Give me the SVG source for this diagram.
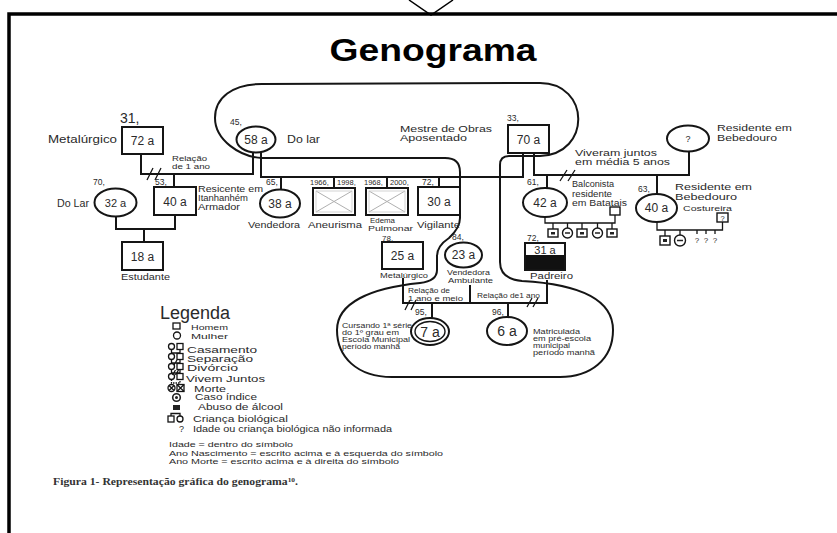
<svg xmlns="http://www.w3.org/2000/svg" width="837" height="533" viewBox="0 0 837 533">
<style>
.ln{fill:none;stroke:#151515;stroke-width:2}
.thin{fill:none;stroke:#151515;stroke-width:1.3}
.nd{fill:#fff;stroke:#151515;stroke-width:2}
.sm{fill:#fff;stroke:#151515;stroke-width:1.4}
.x{stroke:#b0b0b0;stroke-width:1}
.t{font-family:"Liberation Sans",Arial,sans-serif;fill:#2a2a2a}
.c{text-anchor:middle}
.n{font-size:12px}
.yr{font-size:8.5px}
.ys{font-size:7.5px}
</style>

<!-- frame -->
<g id="frame">
<path d="M9,533 V14 H837" fill="none" stroke="#000" stroke-width="3.5"/>
<path d="M409,0 L431,15 L453,0" fill="none" stroke="#000" stroke-width="1.5"/>
</g>

<text x="433" y="61" class="t c" style="font-size:31px;font-weight:bold;fill:#000" textLength="207" lengthAdjust="spacingAndGlyphs">Genograma</text>

<!-- household boundary -->
<g id="household">
<path class="ln" d="M262,158 L445,158 Q460,158 460,172 L460,218 Q460,228 449,238 Q437,246 437,256 L437,270 Q437,281 420,283 C370,288 337,303 337,330 C337,357 357,377 392,377 L560,377 C590,377 613,360 613,330 C613,297 575,284 522,281 Q500,279 500,262 L500,165 Q500,156 509,156 L540,156 C592,154 590,83 540,83 L262,84 C232,84 215,98 215,118 C215,140 240,157 262,158 Z"/>
</g>

<!-- connectors -->
<g id="connectors">
<path class="ln" d="M141,154 V174 H253 V152"/>
<path class="thin" d="M147,180 L153,168 M155,180 L161,168"/>
<path class="ln" d="M174,174 V187"/>
<path class="ln" d="M116,216 V229 H175 V215 M144,229 V242"/>
<path class="ln" d="M261,152 V177 H523 V153"/>
<path class="ln" d="M281,177 V190 M334,177 V188 M387,177 V188 M439,177 V187"/>
<path class="ln" d="M534,153 V175 H689 V151"/>
<path class="thin" d="M560,181 L567,170 M568,181 L575,170"/>
<path class="ln" d="M547,175 V188 M657,175 V194"/>
<path class="thin" d="M545,217 V223 H615 V215 M553,223 V229 M567.5,223 V229 M582,223 V229 M597.5,223 V229 M612,223 V229"/>
<path class="thin" d="M657,222 V230 H722.5 V221 M665,230 V236 M680,230 V235 M697,230 V234 M706,230 V234 M715,230 V234"/>
<path class="ln" d="M403,278 V303 H547 V280 M470,285 V303 M432,303 V318 M508,303 V317"/>
<path class="thin" d="M405,310 L410,300 M411,310 L416,300 M527,307 L532,298 M533,307 L538,298"/>
</g>

<!-- top-left -->
<g id="n72">
<rect class="nd" x="122" y="127" width="41" height="27"/>
<text x="142.5" y="145" class="t c n">72 a</text>
<text x="120" y="123" class="t" style="font-size:14px">31,</text>
<text x="48" y="143" class="t" style="font-size:10.5px" textLength="69" lengthAdjust="spacingAndGlyphs">Metalúrgico</text>
</g>
<text x="172" y="161" class="t" style="font-size:7.5px" textLength="35" lengthAdjust="spacingAndGlyphs">Relação</text>
<text x="172" y="169" class="t" style="font-size:7.5px" textLength="38" lengthAdjust="spacingAndGlyphs">de 1 ano</text>

<g id="n32">
<ellipse class="nd" cx="115.5" cy="202.5" rx="21" ry="14"/>
<text x="115.5" y="206.5" class="t c" style="font-size:11px">32 a</text>
<text x="93" y="185" class="t yr">70,</text>
<text x="57" y="206.5" class="t" style="font-size:10px" textLength="32" lengthAdjust="spacingAndGlyphs">Do Lar</text>
</g>
<g id="n40L">
<rect class="nd" x="154" y="187" width="42" height="28"/>
<text x="175" y="205.5" class="t c n">40 a</text>
<text x="155" y="185" class="t yr">53,</text>
<text x="198" y="191.5" class="t" style="font-size:8.2px" textLength="65" lengthAdjust="spacingAndGlyphs">Resicente em</text>
<text x="198" y="200.5" class="t" style="font-size:8.2px" textLength="50" lengthAdjust="spacingAndGlyphs">Itanhanhém</text>
<text x="198" y="209.5" class="t" style="font-size:8.2px" textLength="42" lengthAdjust="spacingAndGlyphs">Armador</text>
</g>
<g id="n18">
<rect class="nd" x="122" y="242" width="41" height="28"/>
<text x="142.5" y="260.5" class="t c n">18 a</text>
<text x="121" y="280" class="t" style="font-size:9px" textLength="49" lengthAdjust="spacingAndGlyphs">Estudante</text>
</g>

<g id="n58">
<ellipse class="nd" cx="256" cy="139.5" rx="19.5" ry="13"/>
<text x="256" y="143.5" class="t c n">58 a</text>
<text x="230" y="125" class="t yr">45,</text>
<text x="287" y="143" class="t" style="font-size:10.5px" textLength="33" lengthAdjust="spacingAndGlyphs">Do lar</text>
</g>
<g id="n70">
<rect class="nd" x="508" y="125" width="41" height="28"/>
<text x="528.5" y="143.5" class="t c n">70 a</text>
<text x="507" y="121" class="t yr">33,</text>
<text x="400" y="131.5" class="t" style="font-size:9px" textLength="92" lengthAdjust="spacingAndGlyphs">Mestre de Obras</text>
<text x="400" y="141" class="t" style="font-size:9px" textLength="67" lengthAdjust="spacingAndGlyphs">Aposentado</text>
</g>
<text x="575" y="155.5" class="t" style="font-size:9px" textLength="82" lengthAdjust="spacingAndGlyphs">Viveram juntos</text>
<text x="575" y="165" class="t" style="font-size:9px" textLength="95" lengthAdjust="spacingAndGlyphs">em média 5 anos</text>

<g id="nQ">
<ellipse class="nd" cx="688" cy="138.5" rx="21" ry="13"/>
<text x="688" y="141.5" class="t c" style="font-size:9px">?</text>
<text x="717" y="131" class="t" style="font-size:9px" textLength="75" lengthAdjust="spacingAndGlyphs">Residente em</text>
<text x="717" y="141" class="t" style="font-size:9px" textLength="60" lengthAdjust="spacingAndGlyphs">Bebedouro</text>
</g>

<!-- children of 58a & 70a -->
<g id="n38">
<ellipse class="nd" cx="280" cy="203.5" rx="20" ry="14"/>
<text x="280" y="207.5" class="t c n">38 a</text>
<text x="266" y="185" class="t yr">65,</text>
<text x="248" y="228" class="t" style="font-size:9.5px" textLength="52" lengthAdjust="spacingAndGlyphs">Vendedora</text>
</g>
<g id="nX1">
<rect class="nd" x="313" y="188" width="42" height="27"/>
<path class="x" d="M316,191 L352,212 M352,191 L316,212"/>
<rect x="316" y="191" width="36" height="21" fill="none" stroke="#c8c8c8" stroke-width="0.8"/>
<text x="310" y="185" class="t ys">1966,</text>
<text x="337" y="185" class="t ys">1998,</text>
<text x="308" y="228" class="t" style="font-size:9.5px" textLength="54" lengthAdjust="spacingAndGlyphs">Aneurisma</text>
</g>
<g id="nX2">
<rect class="nd" x="366" y="188" width="42" height="27"/>
<path class="x" d="M369,191 L405,212 M405,191 L369,212"/>
<rect x="369" y="191" width="36" height="21" fill="none" stroke="#c8c8c8" stroke-width="0.8"/>
<text x="364" y="185" class="t ys">1968,</text>
<text x="390" y="185" class="t ys">2000,</text>
<text class="t" style="font-size:7px"><tspan x="370" y="222.5" textLength="25" lengthAdjust="spacingAndGlyphs">Edema</tspan><tspan x="368" y="231" textLength="45" lengthAdjust="spacingAndGlyphs">Pulmonar</tspan></text>
</g>
<g id="n30">
<rect class="nd" x="418" y="187" width="42" height="28"/>
<text x="439" y="205.5" class="t c n">30 a</text>
<text x="422" y="185" class="t yr">72,</text>
<text x="417" y="228" class="t" style="font-size:9.5px" textLength="43" lengthAdjust="spacingAndGlyphs">Vigilante</text>
</g>

<!-- right family -->
<g id="n42">
<ellipse class="nd" cx="545" cy="202.5" rx="22" ry="14.5"/>
<text x="545" y="206.5" class="t c n">42 a</text>
<text x="527" y="185" class="t yr">61,</text>
<text x="572" y="187" class="t" style="font-size:8.5px" textLength="42" lengthAdjust="spacingAndGlyphs">Balconista</text>
<text x="572" y="196.5" class="t" style="font-size:8.5px" textLength="40" lengthAdjust="spacingAndGlyphs">residente</text>
<text x="572" y="206" class="t" style="font-size:8.5px" textLength="55" lengthAdjust="spacingAndGlyphs">em Batatais</text>
</g>
<g id="n42sp"><rect class="sm" x="610" y="207" width="10" height="8"/></g>
<g id="k42">
<rect class="sm" x="548" y="229" width="10" height="8"/><rect x="551" y="232" width="4" height="2.5" fill="#222"/>
<circle class="sm" cx="567.5" cy="233" r="5"/><path d="M565,233 H570" stroke="#222" stroke-width="1.5"/>
<rect class="sm" x="577" y="229" width="10" height="8"/><rect x="580" y="232" width="4" height="2.5" fill="#222"/>
<circle class="sm" cx="597.5" cy="233" r="5"/><path d="M595,233 H600" stroke="#222" stroke-width="1.5"/>
<rect class="sm" x="607" y="229" width="10" height="8"/><rect x="610" y="232" width="4" height="2.5" fill="#222"/>
</g>
<g id="n40R">
<ellipse class="nd" cx="656.5" cy="208" rx="20.5" ry="14"/>
<text x="656.5" y="212" class="t c n">40 a</text>
<text x="638" y="192" class="t yr">63,</text>
<text x="675" y="190" class="t" style="font-size:9px" textLength="77" lengthAdjust="spacingAndGlyphs">Residente em</text>
<text x="675" y="200" class="t" style="font-size:9px" textLength="62" lengthAdjust="spacingAndGlyphs">Bebedouro</text>
<text x="683" y="211" class="t" style="font-size:8px" textLength="49" lengthAdjust="spacingAndGlyphs">Costureira</text>
</g>
<g id="n40Rsp">
<rect class="sm" x="717" y="213" width="11" height="9"/>
<text x="722.5" y="220.5" class="t c" style="font-size:7.5px">?</text>
</g>
<g id="k40R">
<rect class="sm" x="660" y="236" width="10" height="9"/><rect x="663" y="239" width="4" height="3" fill="#222"/>
<circle class="sm" cx="680" cy="240.5" r="5.5"/><path d="M677,240.5 H683" stroke="#222" stroke-width="1.5"/>
<text x="697" y="243" class="t c" style="font-size:8px">?</text>
<text x="706" y="243" class="t c" style="font-size:8px">?</text>
<text x="715" y="243" class="t c" style="font-size:8px">?</text>
</g>

<!-- third generation -->
<g id="n25">
<rect class="nd" x="382" y="242" width="41" height="27"/>
<text x="402.5" y="260" class="t c n">25 a</text>
<text x="382" y="241" class="t" style="font-size:8px">78,</text>
<text x="380" y="278" class="t" style="font-size:8px" textLength="48" lengthAdjust="spacingAndGlyphs">Metalúrgico</text>
</g>
<g id="n23">
<ellipse class="nd" cx="463.5" cy="255" rx="18.5" ry="12.5"/>
<text x="463.5" y="259" class="t c n">23 a</text>
<text x="452" y="240" class="t yr">84,</text>
<text x="447" y="275" class="t" style="font-size:7.2px" textLength="43" lengthAdjust="spacingAndGlyphs">Vendedora</text>
<text x="448" y="283" class="t" style="font-size:7.2px" textLength="45" lengthAdjust="spacingAndGlyphs">Ambulante</text>
</g>
<g id="n31">
<rect class="nd" x="525" y="243" width="40" height="27"/>
<rect x="526" y="255" width="38" height="14" fill="#111"/>
<text x="545" y="253.5" class="t c" style="font-size:11px">31 a</text>
<text x="527" y="241" class="t yr">72,</text>
<text x="530" y="279" class="t" style="font-size:9.5px" textLength="43" lengthAdjust="spacingAndGlyphs">Padreiro</text>
</g>
<text x="408" y="293" class="t" style="font-size:6.7px" textLength="42" lengthAdjust="spacingAndGlyphs">Relação de</text>
<text x="408" y="300.5" class="t" style="font-size:6.7px" textLength="55" lengthAdjust="spacingAndGlyphs">1 ano e meio</text>
<text x="477" y="298" class="t" style="font-size:8px" textLength="63" lengthAdjust="spacingAndGlyphs">Relação de1 ano</text>

<g id="n7">
<ellipse class="nd" cx="430" cy="331.5" rx="19" ry="13.5"/>
<ellipse class="sm" cx="430" cy="331.5" rx="15" ry="10"/>
<text x="430" y="336.5" class="t c" style="font-size:14px">7 a</text>
<text x="415" y="315" class="t yr">95,</text>
<text x="342" y="328" class="t" style="font-size:6.3px" textLength="70" lengthAdjust="spacingAndGlyphs">Cursando 1ª série</text>
<text x="342" y="335" class="t" style="font-size:6.3px" textLength="57" lengthAdjust="spacingAndGlyphs">do 1º grau em</text>
<text x="342" y="342" class="t" style="font-size:6.3px" textLength="68" lengthAdjust="spacingAndGlyphs">Escola Municipal</text>
<text x="342" y="349" class="t" style="font-size:6.3px" textLength="58" lengthAdjust="spacingAndGlyphs">período manhã</text>
</g>
<g id="n6">
<ellipse class="nd" cx="507" cy="331" rx="20" ry="14"/>
<text x="507" y="336" class="t c" style="font-size:14px">6 a</text>
<text x="492" y="315" class="t yr">96,</text>
<text x="533" y="334" class="t" style="font-size:6.3px" textLength="47" lengthAdjust="spacingAndGlyphs">Matriculada</text>
<text x="533" y="341" class="t" style="font-size:6.3px" textLength="58" lengthAdjust="spacingAndGlyphs">em pré-escola</text>
<text x="533" y="348" class="t" style="font-size:6.3px" textLength="37" lengthAdjust="spacingAndGlyphs">municipal</text>
<text x="533" y="355" class="t" style="font-size:6.3px" textLength="62" lengthAdjust="spacingAndGlyphs">período manhã</text>
</g>

<!-- legend -->
<g id="legend">
<text x="160" y="319" class="t" style="font-size:18px">Legenda</text>
<rect class="thin" x="173" y="323" width="7" height="6"/>
<text x="191" y="329.5" class="t" style="font-size:8px" textLength="37" lengthAdjust="spacingAndGlyphs">Homem</text>
<circle class="thin" cx="177" cy="335.5" r="3.5"/>
<text x="191" y="338.5" class="t" style="font-size:8px" textLength="37" lengthAdjust="spacingAndGlyphs">Mulher</text>

<circle class="thin" cx="171.5" cy="346.5" r="3"/><rect class="thin" x="177" y="343.5" width="6" height="6"/>
<path class="thin" d="M171.5,349.5 V353 H180 V349.5"/>
<text x="187" y="352.5" class="t" style="font-size:9px" textLength="70" lengthAdjust="spacingAndGlyphs">Casamento</text>

<circle class="thin" cx="171.5" cy="356.5" r="3"/><rect class="thin" x="177" y="353.5" width="6" height="6"/>
<path class="thin" d="M171.5,359.5 V363 H180 V359.5 M174,365 L177,360"/>
<text x="187" y="361.5" class="t" style="font-size:9px" textLength="66" lengthAdjust="spacingAndGlyphs">Separação</text>

<circle class="thin" cx="171.5" cy="366.5" r="3"/><rect class="thin" x="177" y="363.5" width="6" height="6"/>
<path class="thin" d="M171.5,369.5 V373 H180 V369.5 M172.5,375 L175.5,370 M175.5,375 L178.5,370"/>
<text x="187" y="371" class="t" style="font-size:9px" textLength="51" lengthAdjust="spacingAndGlyphs">Divórcio</text>

<circle class="thin" cx="171.5" cy="376.5" r="3"/><rect class="thin" x="177" y="373.5" width="6" height="6"/>
<path class="thin" d="M171.5,379.5 V383 H180 V379.5" stroke-dasharray="1.5 1"/>
<text x="186" y="381.5" class="t" style="font-size:9px" textLength="79" lengthAdjust="spacingAndGlyphs">Vivem Juntos</text>

<circle class="thin" cx="171.5" cy="388" r="3.5"/><path class="thin" d="M169,385.5 L174,390.5 M174,385.5 L169,390.5"/>
<rect class="thin" x="177" y="384.5" width="7" height="7"/><path class="thin" d="M177,384.5 L184,391.5 M184,384.5 L177,391.5"/>
<text x="194" y="391.5" class="t" style="font-size:9px" textLength="32" lengthAdjust="spacingAndGlyphs">Morte</text>

<circle cx="176.5" cy="397.5" r="3.8" fill="none" stroke="#222" stroke-width="1.6"/><circle cx="176.5" cy="397.5" r="1.5" fill="#222"/>
<text x="195" y="400" class="t" style="font-size:9px" textLength="62" lengthAdjust="spacingAndGlyphs">Caso índice</text>

<rect x="173" y="405" width="7" height="5" fill="#222"/>
<text x="198" y="410" class="t" style="font-size:9px" textLength="85" lengthAdjust="spacingAndGlyphs">Abuso de álcool</text>

<path class="thin" d="M171,416 V413.5 H180 V416"/>
<rect class="thin" x="168" y="416" width="6" height="6"/><circle class="thin" cx="180" cy="419" r="3"/>
<text x="193" y="421.5" class="t" style="font-size:9px" textLength="95" lengthAdjust="spacingAndGlyphs">Criança biológical</text>

<text x="179" y="431.5" class="t" style="font-size:9px">?</text>
<text x="193" y="431.5" class="t" style="font-size:9px" textLength="199" lengthAdjust="spacingAndGlyphs">Idade ou criança biológica não informada</text>

<text x="169" y="447" class="t" style="font-size:7.5px" textLength="124" lengthAdjust="spacingAndGlyphs">Idade = dentro do símbolo</text>
<text x="169" y="455.5" class="t" style="font-size:7.5px" textLength="274" lengthAdjust="spacingAndGlyphs">Ano Nascimento = escrito acima e à esquerda do símbolo</text>
<text x="169" y="464" class="t" style="font-size:7.5px" textLength="230" lengthAdjust="spacingAndGlyphs">Ano Morte = escrito acima e à direita do símbolo</text>
</g>

<text x="53" y="485" style="font-family:'Liberation Serif','Times New Roman',serif;font-size:9.5px;font-weight:bold;fill:#333" textLength="245" lengthAdjust="spacingAndGlyphs">Figura 1- Representação gráfica do genograma<tspan dy="-3" style="font-size:6px">10</tspan><tspan dy="3">.</tspan></text>
</svg>
